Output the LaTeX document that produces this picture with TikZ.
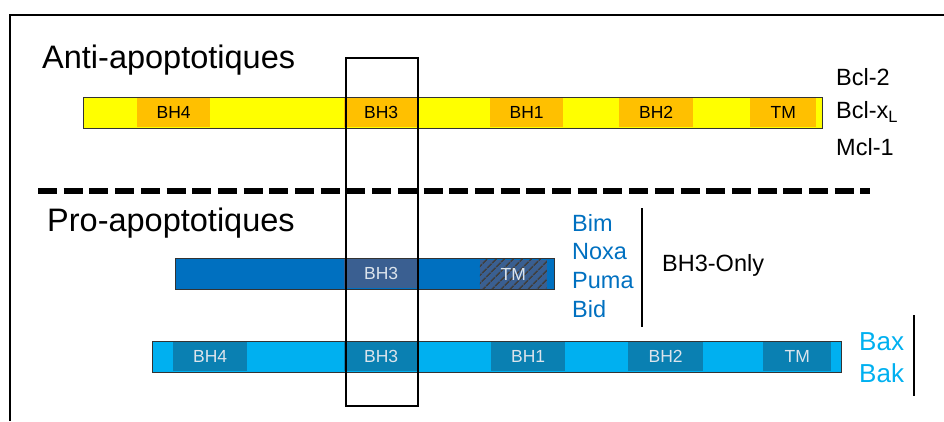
\documentclass[tikz,border=0pt]{standalone}
\usepackage{fontspec}
\setmainfont{Liberation Sans}
\usetikzlibrary{patterns.meta}

\definecolor{antiYellow}{HTML}{FFFF00}
\definecolor{antiOrange}{HTML}{FFC000}
\definecolor{onlyBlue}{HTML}{0070C0}
\definecolor{onlyDomain}{HTML}{3A5F91}
\definecolor{baxBlue}{HTML}{00B0F0}
\definecolor{baxDomain}{HTML}{0A80B2}
\definecolor{domText}{HTML}{DCE4EC}

\tikzset{
  protbar/.style={draw=black!80, line width=1.2pt, anchor=north west,
    minimum height=31pt, inner sep=0pt},
  dom/.style={anchor=north west, minimum height=29pt, inner sep=0pt,
    font=\fontsize{17.5}{17.5}\selectfont},
  headtext/.style={anchor=base west, inner sep=0pt, font=\fontsize{32.5}{32.5}\selectfont},
  protname/.style={anchor=west, inner sep=0pt, font=\fontsize{23.5}{23.5}\selectfont},
}

\begin{document}
\begin{tikzpicture}[x=1pt, y=-1pt]
  \useasboundingbox (0,0) rectangle (944,421);
  % open frame
  \coordinate (frameB) at (10,421);
  \coordinate (frameC) at (10,15);
  \coordinate (frameR) at (944,15);
  \draw[line width=2pt] (frameB) -- (frameC) -- (frameR);

  % anti-apoptotic proteins
  \node[headtext] (antiTitle) at (42,68) {Anti-apoptotiques};
  \node[protbar, fill=antiYellow, minimum width=739pt] (antiBar) at (83,97) {};
  \foreach \nm/\x/\w in {BH4/137/73, BH3/344/74, BH1/490/73, BH2/619/74, TM/750/66}
    \node[dom, fill=antiOrange, minimum width=\w pt] (anti\nm) at (\x,98) {\nm};
  \node[protname] (bcl2) at (836,77) {Bcl-2};
  \node[protname] (bclxl) at (836,112) {Bcl-x\textsubscript{L}};
  \node[protname] (mcl1) at (836,147) {Mcl-1};

  % separation
  \coordinate (sepL) at (38,191);
  \coordinate (sepR) at (870,191);
  \draw[line width=6pt, dash pattern=on 19pt off 6.7pt] (sepL) -- (sepR);

  % pro-apoptotic proteins
  \node[headtext] (proTitle) at (47,231) {Pro-apoptotiques};

  % BH3-only
  \node[protbar, fill=onlyBlue, minimum width=379pt] (onlyBar) at (175,258) {};
  \node[dom, fill=onlyDomain, text=domText, minimum width=74pt] (onlyBH3) at (344,259) {BH3};
  \node[dom, text=domText, minimum width=67pt,
    preaction={fill=onlyDomain},
    pattern={Lines[angle=45, distance=6.5pt, line width=1.6pt]},
    pattern color=black!75] (onlyTM) at (479,259) {TM};
  \foreach \nm/\y in {Bim/223, Noxa/252, Puma/281, Bid/309}
    \node[protname, text=onlyBlue] (only\nm) at (572,\y) {\nm};
  \coordinate (onlyTop) at (642,208);
  \coordinate (onlyBot) at (642,327);
  \draw[line width=1.6pt] (onlyTop) -- (onlyBot);
  \node[protname] (onlyLabel) at (662,265) {BH3-Only};

  % multidomain
  \node[protbar, fill=baxBlue, minimum width=689pt] (baxBar) at (152,341) {};
  \foreach \nm/\x/\w in {BH4/173/74, BH3/344/74, BH1/491/74, BH2/628/75, TM/763/68}
    \node[dom, fill=baxDomain, text=domText, minimum width=\w pt] (bax\nm) at (\x,342) {\nm};
  \node[protname, text=baxBlue, font=\fontsize{26}{26}\selectfont] (baxName) at (859,342) {Bax};
  \node[protname, text=baxBlue, font=\fontsize{26}{26}\selectfont] (bakName) at (859,373) {Bak};
  \coordinate (baxTop) at (914,315);
  \coordinate (baxBot) at (914,396);
  \draw[line width=1.6pt] (baxTop) -- (baxBot);

  % BH3 window
  \node[draw, line width=2pt, anchor=north west, minimum width=72pt,
    minimum height=348pt, inner sep=0pt] (bh3Box) at (345,57) {};
\end{tikzpicture}
\end{document}
